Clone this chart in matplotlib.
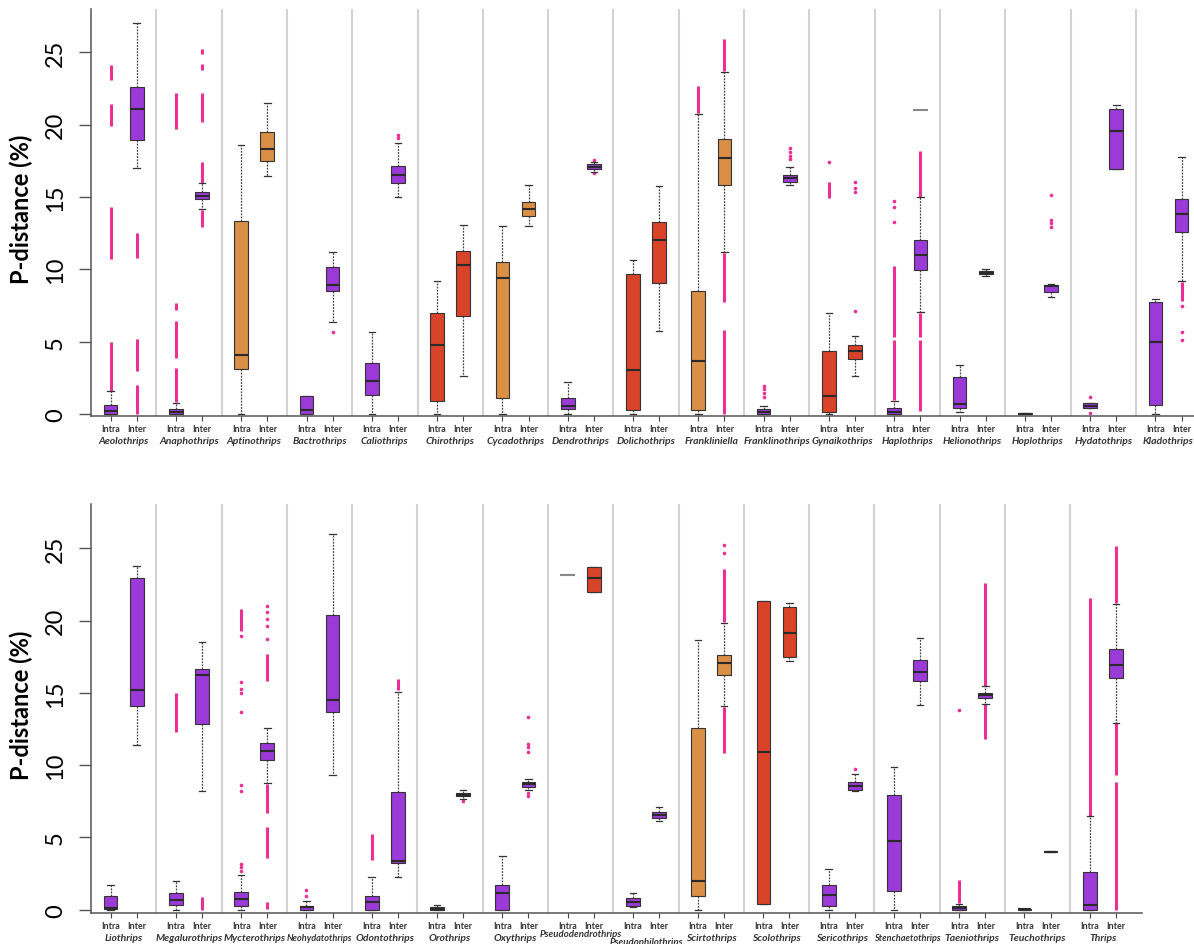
import matplotlib.pyplot as plt

# ---------------- data (P-distance %) ----------------
top_genera = ["Aeolothrips", "Anaphothrips", "Aptinothrips", "Bactrothrips", "Caliothrips",
              "Chirothrips", "Cycadothrips", "Dendrothrips", "Dolichothrips", "Frankliniella",
              "Franklinothrips", "Gynaikothrips", "Haplothrips", "Helionothrips", "Hoplothrips",
              "Hydatothrips", "Kladothrips"]
top_groups = ["P", "P", "O", "P", "P", "R", "O", "P", "R", "O", "P", "R", "P", "P", "P", "P", "P"]

# (whisker low, Q1, median, Q3, whisker high)
top_intra = [(0, 0, 0.23, 0.62, 1.57), (0, 0, 0.12, 0.35, 0.76), (0, 3.1, 4.1, 13.36, 18.6),
             (0, 0, 0.28, 1.22, 1.22), (0, 1.31, 2.3, 3.52, 5.69), (0, 0.92, 4.77, 6.98, 9.17),
             (0, 1.1, 9.37, 10.5, 13.0), (0, 0.35, 0.53, 1.13, 2.2), (0, 0.3, 3.04, 9.68, 10.64),
             (0, 0.28, 3.64, 8.48, 20.73), (0, 0, 0.16, 0.35, 0.53), (0, 0.16, 1.22, 4.33, 6.98),
             (0, 0, 0.16, 0.41, 0.92), (0.16, 0.41, 0.69, 2.58, 3.41), (0, 0, 0.03, 0.08, 0.08),
             (0.39, 0.39, 0.57, 0.74, 0.74), (0, 0.64, 4.95, 7.72, 7.95)]
top_inter = [(17.0, 18.96, 21.08, 22.6, 27.0), (14.17, 14.86, 15.09, 15.38, 15.96),
             (16.47, 17.5, 18.3, 19.5, 21.47), (6.38, 8.48, 8.94, 10.18, 11.2),
             (14.98, 16.0, 16.54, 17.16, 18.73), (2.65, 6.75, 10.3, 11.26, 13.1),
             (12.98, 13.7, 14.14, 14.65, 15.83), (16.75, 16.93, 17.09, 17.28, 17.44),
             (5.76, 9.07, 12.05, 13.25, 15.73), (11.17, 15.85, 17.69, 19.0, 23.66),
             (15.8, 16.05, 16.29, 16.54, 17.1), (2.63, 3.78, 4.33, 4.79, 5.41),
             (7.03, 9.97, 10.99, 12.05, 15.0), (9.56, 9.65, 9.78, 9.9, 10.02),
             (8.11, 8.45, 8.85, 8.94, 9.0), (16.93, 16.93, 19.54, 21.08, 21.35),
             (9.17, 12.56, 13.8, 14.86, 17.74)]

# dense outlier runs: (genus, 0=intra/1=inter, from, to)
top_outlier_runs = [(0, 0, 1.6, 4.95), (0, 0, 10.7, 14.3), (0, 0, 19.9, 21.4), (0, 0, 23.1, 24.1),
                    (0, 1, 0, 2.0), (0, 1, 3.0, 5.2), (0, 1, 10.8, 12.5),
                    (1, 0, 0.8, 3.2), (1, 0, 3.9, 6.45), (1, 0, 7.2, 7.7), (1, 0, 19.7, 22.2),
                    (1, 1, 12.9, 14.1), (1, 1, 16.0, 17.4), (1, 1, 20.2, 22.2), (1, 1, 23.8, 24.2),
                    (1, 1, 24.9, 25.2),
                    (9, 0, 20.8, 22.65), (9, 1, 23.7, 25.9), (9, 1, 7.76, 11.1), (9, 1, 0, 5.8),
                    (11, 0, 14.9, 16.05),
                    (12, 0, 0.95, 5.1), (12, 0, 5.3, 10.25), (12, 1, 0.23, 5.1), (12, 1, 5.3, 7.0),
                    (12, 1, 15.0, 18.2), (16, 1, 7.8, 9.1)]
# single outliers: (genus, side, value)
top_outlier_pts = [(3, 1, 5.69), (4, 1, 19.05), (4, 1, 19.3), (7, 1, 17.55), (7, 1, 16.65),
                   (10, 0, 1.2), (10, 0, 1.45), (10, 0, 1.7), (10, 0, 1.95),
                   (10, 1, 17.6), (10, 1, 17.85), (10, 1, 18.1), (10, 1, 18.4),
                   (11, 0, 17.44), (11, 1, 7.1), (11, 1, 15.32), (11, 1, 15.62), (11, 1, 16.01),
                   (12, 0, 13.29), (12, 0, 14.28), (12, 0, 14.74),
                   (14, 1, 12.95), (14, 1, 13.2), (14, 1, 13.43), (14, 1, 15.13),
                   (15, 0, 1.2), (15, 0, 0.05), (16, 1, 7.45), (16, 1, 5.64), (16, 1, 5.11)]
# single-value grey dashes
top_marks = [(12, 1, 21.0)]

bot_genera = ["Liothrips", "Megalurothrips", "Mycterothrips", "Neohydatothrips", "Odontothrips",
              "Orothrips", "Oxythrips", "Pseudodendrothrips", "Pseudophilothrips", "Scirtothrips",
              "Scolothrips", "Sericothrips", "Stenchaetothrips", "Taeniothrips", "Teuchothrips",
              "Thrips"]
bot_groups = ["P", "P", "P", "P", "P", "P", "P", "R", "P", "O", "R", "P", "P", "P", "P", "P"]

bot_intra = [(0, 0.05, 0.14, 0.97, 1.73), (0, 0.32, 0.69, 1.15, 2.0), (0, 0.23, 0.74, 1.25, 2.4),
             (0, 0, 0.16, 0.28, 0.58), (0, 0, 0.51, 0.92, 2.24), (0, 0, 0.05, 0.16, 0.32),
             (0, 0, 1.15, 1.73, 3.74), None, (0.16, 0.28, 0.51, 0.78, 1.13),
             (0, 0.92, 2.0, 12.55, 18.66), (0.39, 0.39, 10.89, 21.33, 21.33),
             (0, 0.28, 1.01, 1.71, 2.81), (0, 1.27, 4.77, 7.96, 9.89), (0, 0, 0.09, 0.23, 0.39),
             (0, 0, 0.03, 0.08, 0.08), (0, 0, 0.32, 2.58, 6.46)]
bot_inter = [(11.39, 14.07, 15.22, 22.92, 23.8), (8.23, 12.85, 16.24, 16.65, 18.5),
             (8.76, 10.38, 10.95, 11.5, 12.6), (9.34, 13.7, 14.53, 20.4, 26.0),
             (2.28, 3.21, 3.4, 8.16, 15.08), (7.66, 7.84, 7.96, 8.07, 8.3),
             (8.3, 8.51, 8.7, 8.86, 9.04), (22.0, 22.0, 22.92, 23.69, 23.69),
             (6.16, 6.34, 6.57, 6.76, 7.13), (14.07, 16.26, 17.07, 17.64, 19.83),
             (17.23, 17.46, 19.12, 20.92, 21.2), (8.19, 8.3, 8.58, 8.86, 9.39),
             (14.16, 15.8, 16.47, 17.3, 18.77), (14.23, 14.67, 14.85, 15.01, 15.45),
             (3.97, 3.97, 4.01, 4.05, 4.05), (12.9, 16.0, 16.93, 18.03, 21.15)]

bot_outlier_runs = [(1, 0, 12.3, 15.0), (1, 1, 0, 0.85),
                    (2, 0, 19.3, 20.8), (2, 1, 0.05, 0.5), (2, 1, 3.6, 5.7), (2, 1, 6.7, 8.7),
                    (2, 1, 15.8, 17.7),
                    (4, 0, 3.46, 5.24), (4, 1, 15.2, 15.96),
                    (9, 1, 10.84, 14.0), (9, 1, 19.9, 23.6),
                    (13, 0, 0.45, 2.08), (13, 1, 11.8, 14.2), (13, 1, 15.5, 22.58),
                    (15, 0, 6.5, 21.54), (15, 1, 21.2, 25.14), (15, 1, 9.3, 12.9), (15, 1, 0, 8.86)]
bot_outlier_pts = [(2, 0, 2.7), (2, 0, 2.95), (2, 0, 3.16), (2, 0, 8.23), (2, 0, 8.65), (2, 0, 13.7),
                   (2, 0, 15.0), (2, 0, 15.3), (2, 0, 15.77), (2, 0, 18.96),
                   (2, 1, 18.7), (2, 1, 19.6), (2, 1, 20.1), (2, 1, 20.6), (2, 1, 21.0),
                   (3, 0, 0.92), (3, 0, 1.36), (5, 1, 7.55),
                   (6, 1, 8.05), (6, 1, 7.9), (6, 1, 10.89), (6, 1, 11.23), (6, 1, 11.46), (6, 1, 13.3),
                   (9, 1, 24.65), (9, 1, 25.23), (11, 1, 9.73), (13, 0, 13.84)]
bot_marks = [(7, 0, 23.15)]

yticks = [0, 5, 10, 15, 20, 25]
side_names = ["Intra", "Inter"]

# ---------------- style ----------------
group_colors = {"P": "#9b3ad8", "O": "#d98f45", "R": "#d9432a"}
pink = "#ec2f92"
offsets = [0.3, 0.7]
plt.rcParams['font.family'] = ['Lato', 'DejaVu Sans']


def draw_panel(ax, genera, groups, intra, inter, runs, pts, marks, xmax, ymin, ymax, label_tweaks):
    for g in range(1, len(genera)):
        ax.axvline(g, color="#d2d2d2", lw=1.5, zorder=0)

    # outliers
    for g, s, lo, hi in runs:
        ax.vlines(g + offsets[s], lo, hi, color=pink, lw=2.2, zorder=1)
    ax.plot([g + offsets[s] for g, s, v in pts], [v for g, s, v in pts], "o", color=pink,
            ms=2.6, mec="none", zorder=1)
    for g, s, v in marks:
        ax.hlines(v, g + offsets[s] - 0.11, g + offsets[s] + 0.11, color="#888888", lw=1.5, zorder=2)

    stats, pos, cols = [], [], []
    for g in range(len(genera)):
        for s, data in enumerate([intra, inter]):
            if data[g] is None:
                continue
            lo, q1, med, q3, hi = data[g]
            stats.append(dict(whislo=lo, q1=q1, med=med, q3=q3, whishi=hi, fliers=[]))
            pos.append(g + offsets[s])
            cols.append(group_colors[groups[g]])
    bp = ax.bxp(stats, positions=pos, widths=0.21, patch_artist=True, showfliers=False,
                manage_ticks=False, capwidths=0.1,
                boxprops=dict(edgecolor="#333333", lw=0.8),
                whiskerprops=dict(color="#444444", lw=0.9, linestyle=(0, (1.5, 1))),
                capprops=dict(color="#333333", lw=0.9),
                medianprops=dict(color="#2a2a2a", lw=1.5))
    for patch, c in zip(bp["boxes"], cols):
        patch.set_facecolor(c)
        patch.set_zorder(3)
    for m in bp["medians"]:
        m.set_zorder(4)

    ax.set_xlim(0, xmax)
    ax.set_ylim(ymin, ymax)
    ax.set_yticks(yticks)
    ax.tick_params(axis="y", length=9, width=1, color="#555555", labelsize=17, pad=9,
                   labelrotation=90)
    for lab in ax.get_yticklabels():
        lab.set_va("center")

    xt = [g + o for g in range(len(genera)) for o in offsets]
    ax.set_xticks(xt, side_names * len(genera))
    ax.tick_params(axis="x", length=3.5, width=0.8, color="#444444", labelsize=6.4, pad=2.5,
                   labelcolor="#333333")
    for lab in ax.get_xticklabels():
        lab.set_fontweight("bold")

    for g, name in enumerate(genera):
        size, dy = label_tweaks.get(name, (7.5, -17.5))
        ax.annotate(name, xy=(g + 0.5, 0), xycoords=ax.get_xaxis_transform(),
                    xytext=(0, dy), textcoords="offset points", ha="center", va="center",
                    fontsize=size, style="italic", fontweight="bold", color="#333333",
                    annotation_clip=False)

    for sp in ["top", "right"]:
        ax.spines[sp].set_visible(False)
    for sp in ["left", "bottom"]:
        ax.spines[sp].set_color("#555555")
        ax.spines[sp].set_linewidth(1.1)


fig = plt.figure(figsize=(11.94, 9.45), dpi=100)
W, H = 1194.0, 945.0
ax_top = fig.add_axes([91 / W, 1 - 417 / H, 1103 / W, 407 / H])
ax_bot = fig.add_axes([91 / W, 1 - 914 / H, 1051 / W, 409 / H])

draw_panel(ax_top, top_genera, top_groups, top_intra, top_inter, top_outlier_runs,
           top_outlier_pts, top_marks, 16.89, -0.14, 28.0, {})
draw_panel(ax_bot, bot_genera, bot_groups, bot_intra, bot_inter, bot_outlier_runs,
           bot_outlier_pts, bot_marks, 16.1, -0.23, 28.07,
           {"Neohydatothrips": (6.6, -17.5), "Stenchaetothrips": (6.6, -17.5),
            "Pseudodendrothrips": (6.9, -14.5), "Pseudophilothrips": (6.9, -20.5)})

for ax in [ax_top, ax_bot]:
    ax.set_ylabel("P-distance (%)", fontsize=17, fontweight="bold")
ax_top.yaxis.set_label_coords(-58 / 1103, 0.51)
ax_bot.yaxis.set_label_coords(-58 / 1051, 0.51)

fig.savefig("out.png", dpi=100)
